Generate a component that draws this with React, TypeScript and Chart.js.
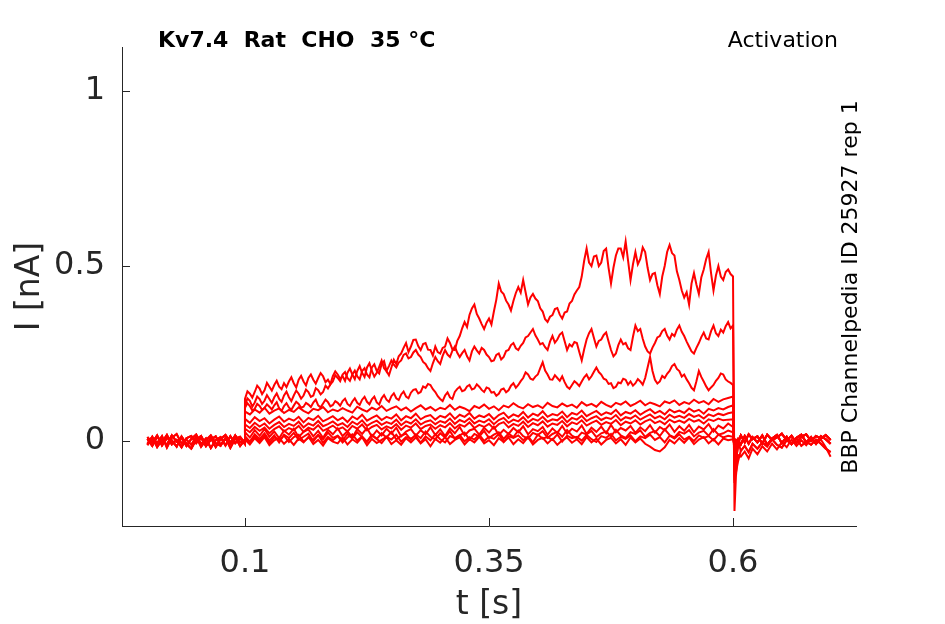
import React, { useEffect, useRef } from 'react';
import { Chart, registerables } from 'chart.js';

Chart.register(...registerables);

// sample times [s]
const tPre = [
    0, 0.005, 0.01, 0.015, 0.02, 0.025, 0.03, 0.035, 0.04, 0.045,
    0.05, 0.055, 0.06, 0.065, 0.07, 0.075, 0.08, 0.085, 0.09, 0.095, 0.1,
];
// coarse grid for the small sweeps
const tStim = [
    0.1, 0.105, 0.11, 0.115, 0.12, 0.125, 0.13, 0.135, 0.14, 0.145,
    0.15, 0.155, 0.16, 0.165, 0.17, 0.175, 0.18, 0.185, 0.19, 0.195,
    0.2, 0.205, 0.21, 0.215, 0.22, 0.225, 0.23, 0.235, 0.24, 0.245,
    0.25, 0.255, 0.26, 0.265, 0.27, 0.275, 0.28, 0.285, 0.29, 0.295,
    0.3, 0.305, 0.31, 0.315, 0.32, 0.325, 0.33, 0.335, 0.34, 0.345,
    0.35, 0.355, 0.36, 0.365, 0.37, 0.375, 0.38, 0.385, 0.39, 0.395,
    0.4, 0.405, 0.41, 0.415, 0.42, 0.425, 0.43, 0.435, 0.44, 0.445,
    0.45, 0.455, 0.46, 0.465, 0.47, 0.475, 0.48, 0.485, 0.49, 0.495,
    0.5, 0.505, 0.51, 0.515, 0.52, 0.525, 0.53, 0.535, 0.54, 0.545,
    0.55, 0.555, 0.56, 0.565, 0.57, 0.575, 0.58, 0.585, 0.59, 0.595,
    0.6,
];
// fine grid for the three large sweeps
const tStimFine = [
    0.1, 0.1025, 0.105, 0.1075, 0.11, 0.1125, 0.115, 0.1175, 0.12, 0.1225,
    0.125, 0.1275, 0.13, 0.1325, 0.135, 0.1375, 0.14, 0.1425, 0.145, 0.1475,
    0.15, 0.1525, 0.155, 0.1575, 0.16, 0.1625, 0.165, 0.1675, 0.17, 0.1725,
    0.175, 0.1775, 0.18, 0.1825, 0.185, 0.1875, 0.19, 0.1925, 0.195, 0.1975,
    0.2, 0.2025, 0.205, 0.2075, 0.21, 0.2125, 0.215, 0.2175, 0.22, 0.2225,
    0.225, 0.2275, 0.23, 0.2325, 0.235, 0.2375, 0.24, 0.2425, 0.245, 0.2475,
    0.25, 0.2525, 0.255, 0.2575, 0.26, 0.2625, 0.265, 0.2675, 0.27, 0.2725,
    0.275, 0.2775, 0.28, 0.2825, 0.285, 0.2875, 0.29, 0.2925, 0.295, 0.2975,
    0.3, 0.3025, 0.305, 0.3075, 0.31, 0.3125, 0.315, 0.3175, 0.32, 0.3225,
    0.325, 0.3275, 0.33, 0.3325, 0.335, 0.3375, 0.34, 0.3425, 0.345, 0.3475,
    0.35, 0.3525, 0.355, 0.3575, 0.36, 0.3625, 0.365, 0.3675, 0.37, 0.3725,
    0.375, 0.3775, 0.38, 0.3825, 0.385, 0.3875, 0.39, 0.3925, 0.395, 0.3975,
    0.4, 0.4025, 0.405, 0.4075, 0.41, 0.4125, 0.415, 0.4175, 0.42, 0.4225,
    0.425, 0.4275, 0.43, 0.4325, 0.435, 0.4375, 0.44, 0.4425, 0.445, 0.4475,
    0.45, 0.4525, 0.455, 0.4575, 0.46, 0.4625, 0.465, 0.4675, 0.47, 0.4725,
    0.475, 0.4775, 0.48, 0.4825, 0.485, 0.4875, 0.49, 0.4925, 0.495, 0.4975,
    0.5, 0.5025, 0.505, 0.5075, 0.51, 0.5125, 0.515, 0.5175, 0.52, 0.5225,
    0.525, 0.5275, 0.53, 0.5325, 0.535, 0.5375, 0.54, 0.5425, 0.545, 0.5475,
    0.55, 0.5525, 0.555, 0.5575, 0.56, 0.5625, 0.565, 0.5675, 0.57, 0.5725,
    0.575, 0.5775, 0.58, 0.5825, 0.585, 0.5875, 0.59, 0.5925, 0.595, 0.5975,
    0.6,
];
const tPost = [
    0.6015, 0.603, 0.605, 0.608, 0.612, 0.616, 0.62, 0.625, 0.63, 0.635, 0.64,
    0.645, 0.65, 0.655, 0.66, 0.665, 0.67, 0.675, 0.68, 0.685, 0.69, 0.695, 0.7,
];

const xTicks = [0.1, 0.35, 0.6];
const xTickLabels = ['0.1', '0.35', '0.6'];
const yTicks = [0, 0.5, 1];
const yTickLabels = ['0', '0.5', '1'];

// holding current before the step [nA]
const base1 = [0.006, -0.014, 0.012, -0.004, 0.017, -0.01, 0.003, -0.018, 0.008, 0.014, -0.006, 0.01, -0.015, 0.004, 0.013, -0.011, 0.006, -0.008, 0.016, -0.004, 0.002];
const base2 = [-0.008, 0.012, -0.017, 0.004, -0.011, 0.016, -0.002, 0.009, -0.014, 0.006, 0.018, -0.009, 0.007, -0.02, 0.002, 0.011, -0.013, 0.014, -0.006, 0.008, -0.009];
const base3 = [0.011, -0.004, 0.016, -0.013, 0.008, 0.002, -0.016, 0.013, -0.008, -0.022, 0.004, 0.014, -0.011, 0.009, -0.017, 0.006, 0.017, -0.004, 0.011, -0.014, 0.004];
const base4 = [-0.012, 0.008, -0.006, 0.014, -0.019, 0.009, 0.02, -0.007, 0.004, -0.011, 0.012, -0.017, 0.002, 0.016, -0.006, -0.014, 0.009, -0.02, 0.006, 0.012, -0.006];

// current during the test pulse [nA], one list per sweep
const i1 = [
    0.12, 0.142, 0.135, 0.124, 0.14, 0.158, 0.15, 0.134, 0.145, 0.166,
    0.155, 0.144, 0.16, 0.172, 0.155, 0.148, 0.165, 0.154, 0.17, 0.182,
    0.165, 0.153, 0.175, 0.186, 0.17, 0.159, 0.18, 0.19, 0.175, 0.164,
    0.18, 0.194, 0.185, 0.168, 0.175, 0.163, 0.185, 0.199, 0.19, 0.178,
    0.185, 0.172, 0.195, 0.207, 0.19, 0.177, 0.2, 0.214, 0.195, 0.183,
    0.21, 0.222, 0.2, 0.184, 0.195, 0.212, 0.23, 0.208, 0.2, 0.188,
    0.21, 0.232, 0.22, 0.242, 0.25, 0.266, 0.28, 0.254, 0.27, 0.289,
    0.29, 0.271, 0.26, 0.277, 0.28, 0.261, 0.26, 0.244, 0.27, 0.254,
    0.25, 0.266, 0.27, 0.293, 0.28, 0.262, 0.26, 0.286, 0.3, 0.322,
    0.34, 0.326, 0.36, 0.379, 0.39, 0.363, 0.35, 0.334, 0.32, 0.338,
    0.35, 0.333, 0.37, 0.404, 0.45, 0.427, 0.42, 0.401, 0.39, 0.373,
    0.4, 0.423, 0.44, 0.424, 0.46, 0.425, 0.39, 0.41, 0.42, 0.407,
    0.4, 0.379, 0.37, 0.348, 0.34, 0.355, 0.36, 0.377, 0.38, 0.361,
    0.35, 0.367, 0.37, 0.393, 0.4, 0.419, 0.43, 0.44, 0.47, 0.515,
    0.55, 0.51, 0.5, 0.527, 0.53, 0.5, 0.51, 0.543, 0.55, 0.495,
    0.45, 0.495, 0.53, 0.55, 0.55, 0.525, 0.57, 0.515, 0.46, 0.505,
    0.54, 0.505, 0.52, 0.553, 0.54, 0.495, 0.46, 0.477, 0.48, 0.445,
    0.42, 0.47, 0.5, 0.54, 0.56, 0.537, 0.53, 0.485, 0.46, 0.43,
    0.41, 0.425, 0.39, 0.45, 0.48, 0.447, 0.42, 0.467, 0.49, 0.52,
    0.54, 0.48, 0.43, 0.473, 0.5, 0.47, 0.46, 0.483, 0.49, 0.477,
    0.47,
];
const i2 = [
    0.1, 0.122, 0.115, 0.098, 0.11, 0.127, 0.12, 0.106, 0.115, 0.131,
    0.12, 0.109, 0.125, 0.136, 0.12, 0.112, 0.13, 0.141, 0.125, 0.114,
    0.13, 0.144, 0.135, 0.121, 0.13, 0.147, 0.14, 0.126, 0.13, 0.151,
    0.145, 0.133, 0.14, 0.158, 0.15, 0.162, 0.17, 0.188, 0.18, 0.171,
    0.19, 0.197, 0.18, 0.172, 0.19, 0.201, 0.185, 0.176, 0.2, 0.208,
    0.19, 0.182, 0.21, 0.219, 0.2, 0.193, 0.22, 0.228, 0.2, 0.214,
    0.23, 0.218, 0.21, 0.224, 0.23, 0.246, 0.25, 0.236, 0.24, 0.253,
    0.26, 0.247, 0.24, 0.226, 0.22, 0.208, 0.2, 0.222, 0.24, 0.228,
    0.22, 0.243, 0.26, 0.247, 0.24, 0.258, 0.27, 0.252, 0.24, 0.251,
    0.26, 0.242, 0.23, 0.256, 0.27, 0.259, 0.25, 0.266, 0.26, 0.247,
    0.24, 0.228, 0.23, 0.246, 0.25, 0.233, 0.24, 0.257, 0.26, 0.274,
    0.28, 0.265, 0.26, 0.272, 0.28, 0.296, 0.3, 0.31, 0.32, 0.302,
    0.29, 0.276, 0.28, 0.268, 0.26, 0.284, 0.3, 0.281, 0.29, 0.304,
    0.31, 0.285, 0.26, 0.276, 0.27, 0.283, 0.28, 0.254, 0.23, 0.262,
    0.29, 0.308, 0.32, 0.294, 0.27, 0.286, 0.29, 0.303, 0.31, 0.284,
    0.26, 0.242, 0.25, 0.274, 0.29, 0.276, 0.28, 0.265, 0.26, 0.298,
    0.33, 0.314, 0.32, 0.292, 0.27, 0.256, 0.25, 0.267, 0.28, 0.296,
    0.3, 0.314, 0.32, 0.301, 0.29, 0.306, 0.3, 0.318, 0.33, 0.312,
    0.3, 0.284, 0.27, 0.256, 0.25, 0.266, 0.28, 0.297, 0.31, 0.293,
    0.29, 0.314, 0.33, 0.308, 0.3, 0.318, 0.31, 0.328, 0.34, 0.322,
    0.33,
];
const i3 = [
    0.095, 0.108, 0.1, 0.087, 0.092, 0.106, 0.1, 0.089, 0.094, 0.105,
    0.098, 0.09, 0.102, 0.111, 0.093, 0.086, 0.1, 0.108, 0.096, 0.089,
    0.101, 0.112, 0.106, 0.095, 0.098, 0.109, 0.104, 0.097, 0.11, 0.118,
    0.102, 0.096, 0.107, 0.118, 0.111, 0.099, 0.103, 0.114, 0.109, 0.101,
    0.114, 0.121, 0.106, 0.1, 0.113, 0.122, 0.109, 0.103, 0.118, 0.126,
    0.112, 0.105, 0.119, 0.127, 0.11, 0.104, 0.122, 0.131, 0.118, 0.112,
    0.128, 0.136, 0.122, 0.117, 0.133, 0.141, 0.127, 0.122, 0.138, 0.146,
    0.148, 0.136, 0.14, 0.156, 0.152, 0.163, 0.16, 0.148, 0.14, 0.128,
    0.12, 0.114, 0.13, 0.139, 0.125, 0.12, 0.14, 0.149, 0.155, 0.142,
    0.145, 0.156, 0.16, 0.147, 0.15, 0.162, 0.155, 0.146, 0.14, 0.153,
    0.15, 0.138, 0.14, 0.129, 0.135, 0.147, 0.15, 0.139, 0.145, 0.158,
    0.165, 0.152, 0.16, 0.171, 0.18, 0.196, 0.19, 0.178, 0.175, 0.184,
    0.19, 0.208, 0.225, 0.201, 0.19, 0.176, 0.175, 0.188, 0.18, 0.172,
    0.185, 0.168, 0.155, 0.149, 0.16, 0.171, 0.165, 0.157, 0.17, 0.182,
    0.19, 0.176, 0.185, 0.198, 0.21, 0.197, 0.19, 0.178, 0.175, 0.163,
    0.165, 0.151, 0.155, 0.167, 0.165, 0.178, 0.175, 0.161, 0.17, 0.158,
    0.165, 0.177, 0.17, 0.161, 0.18, 0.21, 0.24, 0.2, 0.175, 0.164,
    0.17, 0.186, 0.18, 0.192, 0.2, 0.214, 0.22, 0.206, 0.2, 0.184,
    0.19, 0.176, 0.165, 0.152, 0.145, 0.171, 0.2, 0.183, 0.17, 0.156,
    0.145, 0.153, 0.16, 0.172, 0.18, 0.193, 0.19, 0.176, 0.17, 0.166,
    0.16,
];
const i4 = [
    0.084, 0.076, 0.09, 0.081, 0.095, 0.078, 0.087, 0.093, 0.08, 0.089,
    0.083, 0.096, 0.086, 0.079, 0.092, 0.088, 0.097, 0.082, 0.09, 0.085,
    0.094, 0.087, 0.081, 0.098, 0.09, 0.084, 0.095, 0.089, 0.1, 0.086,
    0.093, 0.099, 0.088, 0.096, 0.084, 0.094, 0.102, 0.09, 0.097, 0.087,
    0.095, 0.091, 0.103, 0.089, 0.098, 0.093, 0.085, 0.1, 0.094, 0.104,
    0.092, 0.099, 0.088, 0.101, 0.096, 0.108, 0.098, 0.093, 0.105, 0.097,
    0.102, 0.094, 0.109, 0.1, 0.096, 0.107, 0.099, 0.104, 0.095, 0.111,
    0.101, 0.106, 0.098, 0.112, 0.103, 0.097, 0.109, 0.104, 0.113, 0.1,
    0.107, 0.115, 0.102, 0.11, 0.105, 0.099, 0.113, 0.108, 0.116, 0.103,
    0.111, 0.106, 0.118, 0.109, 0.114, 0.105, 0.12, 0.112, 0.119, 0.123,
    0.127,
];
const i5 = [
    0.063, 0.052, 0.068, 0.057, 0.065, 0.05, 0.061, 0.07, 0.055, 0.064,
    0.058, 0.069, 0.053, 0.066, 0.06, 0.072, 0.056, 0.063, 0.071, 0.059,
    0.067, 0.054, 0.07, 0.062, 0.075, 0.058, 0.066, 0.073, 0.06, 0.069,
    0.064, 0.076, 0.059, 0.071, 0.065, 0.078, 0.062, 0.07, 0.074, 0.061,
    0.072, 0.067, 0.079, 0.063, 0.075, 0.069, 0.08, 0.064, 0.073, 0.068,
    0.077, 0.062, 0.074, 0.081, 0.066, 0.076, 0.07, 0.083, 0.067, 0.078,
    0.072, 0.085, 0.069, 0.077, 0.073, 0.084, 0.068, 0.08, 0.075, 0.087,
    0.071, 0.079, 0.086, 0.074, 0.082, 0.077, 0.089, 0.073, 0.083, 0.078,
    0.088, 0.075, 0.084, 0.091, 0.079, 0.086, 0.076, 0.09, 0.082, 0.087,
    0.08, 0.093, 0.084, 0.089, 0.078, 0.092, 0.087, 0.094, 0.09, 0.097,
    0.102,
];
const i6 = [
    0.047, 0.037, 0.052, 0.041, 0.05, 0.035, 0.046, 0.054, 0.04, 0.049,
    0.043, 0.055, 0.039, 0.05, 0.044, 0.057, 0.042, 0.048, 0.056, 0.045,
    0.051, 0.04, 0.055, 0.047, 0.059, 0.043, 0.052, 0.058, 0.046, 0.054,
    0.049, 0.061, 0.045, 0.056, 0.05, 0.062, 0.047, 0.055, 0.059, 0.048,
    0.057, 0.052, 0.064, 0.049, 0.06, 0.054, 0.065, 0.05, 0.058, 0.053,
    0.062, 0.048, 0.06, 0.066, 0.052, 0.061, 0.056, 0.068, 0.053, 0.063,
    0.058, 0.069, 0.055, 0.062, 0.059, 0.07, 0.054, 0.066, 0.061, 0.072,
    0.057, 0.065, 0.071, 0.06, 0.067, 0.063, 0.074, 0.059, 0.068, 0.064,
    0.073, 0.061, 0.069, 0.076, 0.065, 0.071, 0.062, 0.075, 0.067, 0.072,
    0.066, 0.077, 0.069, 0.074, 0.064, 0.076, 0.071, 0.078, 0.074, 0.079,
    0.082,
];
const i7 = [
    0.035, 0.025, 0.04, 0.029, 0.038, 0.022, 0.034, 0.042, 0.027, 0.037,
    0.031, 0.043, 0.026, 0.038, 0.032, 0.045, 0.029, 0.036, 0.044, 0.033,
    0.039, 0.027, 0.043, 0.035, 0.047, 0.03, 0.04, 0.046, 0.033, 0.042,
    0.036, 0.048, 0.032, 0.044, 0.038, 0.05, 0.034, 0.043, 0.047, 0.035,
    0.045, 0.039, 0.051, 0.036, 0.047, 0.041, 0.053, 0.037, 0.046, 0.04,
    0.049, 0.035, 0.048, 0.054, 0.039, 0.049, 0.043, 0.055, 0.04, 0.051,
    0.045, 0.056, 0.041, 0.05, 0.046, 0.057, 0.042, 0.053, 0.048, 0.059,
    0.044, 0.052, 0.058, 0.046, 0.054, 0.049, 0.06, 0.045, 0.055, 0.05,
    0.059, 0.047, 0.056, 0.062, 0.051, 0.057, 0.048, 0.061, 0.053, 0.058,
    0.052, 0.063, 0.055, 0.06, 0.05, 0.062, 0.057, 0.064, 0.059, 0.061,
    0.062,
];
const i8 = [
    0.025, 0.01, 0.031, 0.015, 0.034, 0.012, 0.027, 0.008, 0.03, 0.018,
    0.035, 0.011, 0.026, 0.033, 0.013, 0.029, 0.009, 0.032, 0.019, 0.036,
    0.014, 0.028, 0.01, 0.034, 0.02, 0.037, 0.012, 0.03, 0.016, 0.035,
    0.021, 0.038, 0.013, 0.027, 0.034, 0.015, 0.031, 0.019, 0.039, 0.017,
    0.033, 0.014, 0.036, 0.022, 0.04, 0.016, 0.03, 0.035, 0.018, 0.038,
    0.024, 0.041, 0.017, 0.032, 0.02, 0.037, 0.025, 0.042, 0.019, 0.034,
    0.028, 0.04, 0.018, 0.036, 0.023, 0.043, 0.021, 0.035, 0.027, 0.044,
    0.02, 0.038, 0.026, 0.041, 0.022, 0.046, 0.025, 0.037, 0.03, 0.043,
    0.023, 0.039, 0.028, 0.045, 0.024, 0.04, 0.031, 0.047, 0.026, 0.042,
    0.029, 0.046, 0.025, 0.041, 0.033, 0.048, 0.027, 0.044, 0.036, 0.05,
    0.04,
];
const i9 = [
    0.014, -0.002, 0.019, 0.006, 0.022, 0.001, 0.016, -0.004, 0.018, 0.008,
    0.023, 0.003, 0.012, 0.021, -0.001, 0.017, 0.005, 0.024, 0.009, 0.015,
    0.002, 0.02, 0.007, 0.025, 0.011, -0.002, 0.018, 0.006, 0.022, 0.01,
    0.026, 0.004, 0.015, 0.021, 0.003, 0.019, 0.008, 0.027, 0.012, 0.005,
    0.022, 0.01, 0.028, 0.007, 0.016, 0.024, 0.004, 0.02, 0.013, 0.029,
    0.008, 0.018, 0.025, 0.006, 0.021, 0.011, 0.03, 0.014, 0.007, 0.023,
    0.017, 0.028, 0.009, 0.02, 0.026, 0.012, 0.031, 0.015, 0.008, 0.024,
    0.019, 0.029, 0.011, 0.022, 0.027, 0.013, 0.032, 0.016, 0.009, 0.025,
    0.02, 0.03, 0.012, 0.023, 0.028, 0.014, 0.033, 0.017, 0.01, 0.026,
    0.021, 0.031, 0.013, 0.024, 0.029, 0.015, 0.034, 0.018, 0.022, 0.03,
    0.025,
];
const i10 = [
    0.004, -0.01, 0.008, -0.006, 0.011, -0.012, 0.002, 0.009, -0.008, 0.005,
    -0.011, 0.007, -0.004, 0.012, -0.009, 0.003, -0.013, 0.008, -0.002, -0.007,
    0.01, -0.01, 0.005, -0.005, 0.011, -0.012, 0.006, -0.006, 0.003, 0.012,
    -0.009, 0.002, -0.011, 0.008, -0.004, 0.01, -0.007, 0.005, -0.015, 0.006,
    -0.005, 0.011, -0.009, 0.003, 0.01, -0.01, 0.005, -0.004, 0.012, -0.007,
    0.002, -0.012, 0.008, -0.003, 0.01, -0.009, 0.005, -0.006, 0.011, -0.01,
    0.003, 0.009, -0.007, 0.006, -0.011, 0.002, 0.01, -0.005, 0.005, -0.009,
    0.011, -0.004, 0.007, -0.01, 0.003, 0.009, -0.007, 0.005, -0.011, 0.01,
    -0.004, 0.007, -0.008, -0.016, -0.026, -0.03, -0.018, 0.003, -0.007, 0.008,
    -0.005, 0.01, -0.009, 0.004, 0.011, -0.007, 0.005, -0.01, 0.007, 0.002,
    0.005,
];
const i11 = [
    0.008, -0.004, 0.013, 0.0, 0.016, -0.006, 0.01, 0.003, 0.015, -0.003,
    0.011, 0.018, -0.002, 0.009, 0.004, 0.017, -0.005, 0.012, 0.002, 0.014,
    -0.004, 0.01, 0.019, 0.001, 0.013, -0.003, 0.016, 0.006, -0.006, 0.012,
    0.004, 0.018, -0.002, 0.011, 0.007, 0.015, -0.005, 0.013, 0.002, 0.019,
    0.005, -0.004, 0.014, 0.008, 0.017, -0.001, 0.011, 0.004, 0.018, 0.0,
    0.012, 0.006, 0.02, -0.003, 0.014, 0.009, 0.016, 0.002, 0.013, -0.004,
    0.018, 0.007, 0.011, 0.003, 0.019, -0.002, 0.015, 0.008, 0.012, 0.001,
    0.017, 0.005, -0.003, 0.014, 0.009, 0.02, 0.002, 0.012, 0.006, 0.016,
    -0.001, 0.013, 0.008, 0.018, 0.003, 0.011, -0.004, 0.015, 0.007, 0.019,
    0.004, 0.012, 0.0, 0.016, 0.009, 0.014, 0.002, 0.018, 0.01, 0.015,
    0.012,
];

// fast inward transient right after the pulse [nA]
const offSpike = [
    [-0.2, -0.1, -0.04],
    [-0.1, -0.09, -0.06],
    [-0.12, -0.05, -0.02],
    [-0.08, -0.06, -0.015],
    [-0.07, -0.04, -0.01],
    [-0.06, -0.03, -0.005],
    [-0.05, -0.02, 0.0],
    [-0.03, -0.01, 0.005],
    [-0.02, 0.0, 0.003],
    [-0.01, 0.004, 0.0],
    [-0.015, 0.002, -0.004],
];

// tail after the pulse [nA]
const tail1 = [-0.045, -0.03, -0.05, -0.022, -0.038, -0.015, -0.03, -0.008, -0.024, -0.004, -0.018, 0.004, -0.014, 0.002, -0.012, 0.006, -0.009, 0.004, -0.018, -0.045];
const tail2 = [-0.01, 0.014, -0.008, 0.011, -0.004, 0.016, -0.011, 0.007, 0.017, -0.006, 0.012, -0.009, 0.009, 0.018, -0.004, 0.011, -0.008, 0.014, 0.005, -0.008];
const tail3 = [0.016, -0.004, 0.019, 0.005, 0.013, -0.007, 0.018, 0.003, 0.01, 0.021, 0.002, 0.015, -0.005, 0.012, 0.019, 0.0, 0.014, 0.007, 0.017, 0.003];
const tail4 = [-0.028, -0.014, -0.032, -0.008, -0.022, -0.004, -0.016, 0.005, -0.011, -0.019, 0.002, -0.009, 0.007, -0.014, -0.002, -0.011, 0.004, -0.008, -0.022, -0.032];

const sweeps = [i1, i2, i3, i4, i5, i6, i7, i8, i9, i10, i11];
const sweepTimes = [tStimFine, tStimFine, tStimFine, tStim, tStim, tStim, tStim, tStim, tStim, tStim, tStim];
const bases = [base1, base2, base3, base4];
const tails = [tail1, tail2, tail3, tail4];
const tailOf = [0, 3, 1, 2, 1, 2, 3, 1, 2, 1, 2];

const buildSweep = (k: number) => {
    const pts: { x: number; y: number }[] = [];
    tPre.forEach((t, j) => pts.push({ x: t, y: bases[k % 4][j] }));
    sweepTimes[k].forEach((t, j) => pts.push({ x: t, y: sweeps[k][j] }));
    const post = offSpike[k].concat(tails[tailOf[k]]);
    tPost.forEach((t, j) => pts.push({ x: t, y: post[j] }));
    return pts;
};

const AXIS = '#262626';
const FONT = '"DejaVu Sans", sans-serif';

// inner tick marks plus the header / side texts
const decorations = {
    id: 'decorations',
    afterDraw(chart: any) {
        const { ctx, chartArea, scales } = chart;
        ctx.save();
        ctx.strokeStyle = AXIS;
        ctx.lineWidth = 1;
        ctx.beginPath();
        xTicks.forEach((v) => {
            const px = Math.round(scales.x.getPixelForValue(v)) + 0.5;
            ctx.moveTo(px, chartArea.bottom);
            ctx.lineTo(px, chartArea.bottom - 8);
        });
        yTicks.forEach((v) => {
            const py = Math.round(scales.y.getPixelForValue(v)) + 0.5;
            ctx.moveTo(chartArea.left, py);
            ctx.lineTo(chartArea.left + 8, py);
        });
        ctx.stroke();

        ctx.fillStyle = '#000';
        ctx.textBaseline = 'alphabetic';
        ctx.font = `bold 22px ${FONT}`;
        ctx.textAlign = 'left';
        ctx.fillText('Kv7.4  Rat  CHO  35 °C', 158, 47);

        ctx.font = `22px ${FONT}`;
        ctx.textAlign = 'right';
        ctx.fillText('Activation', 838, 47);

        ctx.save();
        ctx.translate(857, 287);
        ctx.rotate(-Math.PI / 2);
        ctx.font = `22px ${FONT}`;
        ctx.textAlign = 'center';
        ctx.fillText('BBP Channelpedia ID 25927 rep 1', 0, 0);
        ctx.restore();

        ctx.fillStyle = AXIS;
        ctx.font = `33px ${FONT}`;
        ctx.textAlign = 'center';
        ctx.fillText('t [s]', (chartArea.left + chartArea.right) / 2, 614);

        ctx.save();
        ctx.translate(39, (chartArea.top + chartArea.bottom) / 2);
        ctx.rotate(-Math.PI / 2);
        ctx.fillText('I [nA]', 0, 0);
        ctx.restore();

        ctx.restore();
    },
};

const App = () => {
    const canvasRef = useRef<HTMLCanvasElement>(null);
    const chartRef = useRef<Chart | null>(null);

    useEffect(() => {
        const ctx = canvasRef.current?.getContext('2d');
        if (!ctx) return;
        if (chartRef.current) chartRef.current.destroy();

        chartRef.current = new Chart(ctx, {
            type: 'line',
            data: {
                datasets: sweeps.map((_, k) => ({
                    data: buildSweep(k),
                    borderColor: '#ff0000',
                    borderWidth: 2,
                    pointRadius: 0,
                    fill: false,
                    tension: 0,
                })),
            },
            options: {
                animation: false,
                responsive: true,
                maintainAspectRatio: false,
                layout: { padding: { top: 47, right: 89, bottom: 0, left: 0 } },
                plugins: {
                    legend: { display: false },
                    tooltip: { enabled: false },
                },
                scales: {
                    x: {
                        type: 'linear',
                        min: -0.026,
                        max: 0.726,
                        afterBuildTicks: (s: any) => {
                            s.ticks = xTicks.map((v) => ({ value: v }));
                        },
                        afterFit: (s: any) => {
                            s.height = 98;
                        },
                        grid: { display: false, drawTicks: false },
                        border: { display: true, color: AXIS, width: 1 },
                        ticks: {
                            padding: 18,
                            color: AXIS,
                            maxRotation: 0,
                            autoSkip: false,
                            font: { family: FONT, size: 32 },
                            callback: (_v: any, i: number) => xTickLabels[i],
                        },
                    },
                    y: {
                        type: 'linear',
                        min: -0.243,
                        max: 1.126,
                        afterBuildTicks: (s: any) => {
                            s.ticks = yTicks.map((v) => ({ value: v }));
                        },
                        afterFit: (s: any) => {
                            s.width = 122;
                        },
                        grid: { display: false, drawTicks: false },
                        border: { display: true, color: AXIS, width: 1 },
                        ticks: {
                            padding: 17,
                            color: AXIS,
                            font: { family: FONT, size: 32 },
                            callback: (_v: any, i: number) => yTickLabels[i],
                        },
                    },
                },
            },
            plugins: [decorations],
        });

        return () => {
            if (chartRef.current) {
                chartRef.current.destroy();
                chartRef.current = null;
            }
        };
    }, []);

    return (
        <div style={{ position: 'fixed', left: 0, top: 0, width: 945, height: 624, background: '#fff' }}>
            <canvas ref={canvasRef}></canvas>
        </div>
    );
};

export default App;
